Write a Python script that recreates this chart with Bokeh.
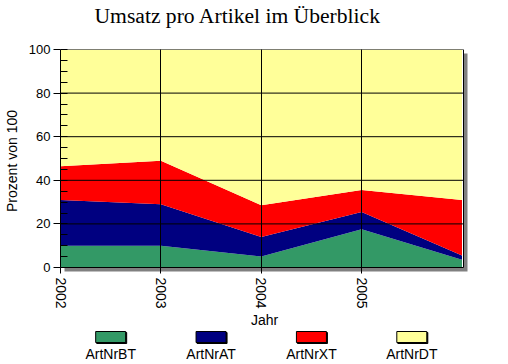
import math
from bokeh.plotting import figure
from bokeh.models import (ColumnDataSource, FixedTicker, SingleIntervalTicker, Range1d)
from bokeh.layouts import column
from bokeh.embed import file_html
from bokeh.resources import INLINE
from bokeh.core.properties import value

# ---- data ----
years = [2002, 2003, 2004, 2005, 2006]
tick_years = [2002, 2003, 2004, 2005]
series = ["ArtNrBT", "ArtNrAT", "ArtNrXT", "ArtNrDT"]
art_bt = [10, 10, 5, 17.5, 3.5]
art_at = [21, 19, 9, 8, 2]
art_xt = [15.5, 20, 14.5, 10, 25.5]
art_dt = [53.5, 51, 71.5, 64.5, 69]
colors = ["#339966", "#000080", "#FF0000", "#FFFF99"]
y_grid_values = [20, 40, 60, 80]
title_text = "Umsatz pro Artikel im Überblick"

SANS = "Liberation Sans"
SERIF = "Liberation Serif"

# chart area (without shadow) and shadow size, in pixels
X0, X1 = 2002, 2006.015
Y0, Y1 = 0, 100
AREA_W, AREA_H = 403, 218
SH = 5                       # extra room for the drop shadow
ppx = AREA_W / (X1 - X0)
ppy = AREA_H / (Y1 - Y0)
X1E = X1 + SH / ppx          # frame extends to the right for the shadow
Y0E = Y0 - SH / ppy          # and below

LEFT, RIGHT = 60, 36

source = ColumnDataSource(dict(year=years, ArtNrBT=art_bt, ArtNrAT=art_at,
                               ArtNrXT=art_xt, ArtNrDT=art_dt))

# ---------------- title strip ----------------
TITLE_H = 40
tfig = figure(frame_width=AREA_W + SH, frame_height=TITLE_H, title=None,
              x_range=Range1d(X0, X1E), y_range=Range1d(TITLE_H, 0),
              output_backend="svg", toolbar_location=None,
              min_border_left=LEFT, min_border_right=RIGHT, min_border_top=0, min_border_bottom=0,
              background_fill_color=None, border_fill_color="white")
tfig.axis.visible = False
tfig.grid.visible = False
tfig.outline_line_color = None
tfig.text(x=[X0 + 34 / ppx], y=[15], text=[title_text], text_align="left",
          text_baseline="alphabetic", text_font=value(SERIF), text_font_size="21.6px",
          text_color="black")

# ---------------- main chart ----------------
p = figure(frame_width=AREA_W + SH, frame_height=AREA_H + SH, title=None,
           x_range=Range1d(X0, X1E), y_range=Range1d(Y0E, Y1),
           output_backend="svg", toolbar_location=None,
           min_border_left=LEFT, min_border_right=RIGHT, min_border_top=9, min_border_bottom=40,
           background_fill_color="white", border_fill_color="white")
p.outline_line_color = None

# drop shadow, then white chart area, then the stacked areas
p.quad(left=[X0 + 4 / ppx], right=[X1 + 4 / ppx], bottom=[Y0 - 4 / ppy], top=[Y1 - 4 / ppy],
       fill_color="#808080", line_color=None)
p.quad(left=[X0], right=[X1], bottom=[Y0], top=[Y1], fill_color="white", line_color=None)
p.varea_stack(stackers=series, x="year", color=colors, source=source)

# horizontal grid lines and chart border (limited to the chart area)
p.segment(x0=X0, x1=X1, y0=y_grid_values, y1=y_grid_values, line_color="black", line_width=1)
p.segment(x0=[X0, X0, X1], x1=[X1, X1, X1], y0=[Y0, Y1, Y0], y1=[Y0, Y1, Y1],
          line_color="black", line_width=1)

# vertical grid lines
p.ygrid.visible = False
p.xgrid.ticker = FixedTicker(ticks=tick_years[1:])
p.xgrid.grid_line_color = "black"
p.xgrid.grid_line_width = 1
p.xgrid.level = "overlay"

xa = p.xaxis[0]
xa.ticker = FixedTicker(ticks=tick_years)
xa.axis_line_color = None
xa.major_label_orientation = -math.pi / 2
xa.major_tick_in = SH
xa.major_tick_out = 1
xa.minor_tick_in = 0
xa.minor_tick_out = 0
xa.major_label_standoff = 4
xa.axis_label = "Jahr"
xa.axis_label_standoff = 0
xa.major_label_text_font = SANS
xa.major_label_text_font_size = "14px"
xa.axis_label_text_font = SANS
xa.axis_label_text_font_size = "14px"
xa.axis_label_text_font_style = "normal"

ya = p.yaxis[0]
ya.ticker = SingleIntervalTicker(interval=20, num_minor_ticks=4)
ya.bounds = (Y0, Y1)
ya.axis_line_color = "black"
ya.major_tick_in = 0
ya.major_tick_out = 7
ya.minor_tick_in = 7
ya.minor_tick_out = 0
ya.major_label_standoff = 3
ya.axis_label = "Prozent von 100"
ya.axis_label_standoff = 6
ya.major_label_text_font = SANS
ya.major_label_text_font_size = "13px"
ya.axis_label_text_font = SANS
ya.axis_label_text_font_size = "14px"
ya.axis_label_text_font_style = "normal"

for ax in (xa, ya):
    ax.major_tick_line_color = "black"
    ax.minor_tick_line_color = "black"
    ax.major_label_text_color = "black"
    ax.axis_label_text_color = "black"

# ---------------- legend (box above label) ----------------
LEG_H = 33
leg = figure(frame_width=AREA_W + SH, frame_height=LEG_H, title=None,
             x_range=Range1d(X0, X1E), y_range=Range1d(LEG_H, 0),
             output_backend="svg", toolbar_location=None,
             min_border_left=LEFT, min_border_right=RIGHT, min_border_top=0, min_border_bottom=0,
             background_fill_color=None, border_fill_color="white")
leg.axis.visible = False
leg.grid.visible = False
leg.outline_line_color = None

lx = [y + 0.5 for y in tick_years]
leg_src = ColumnDataSource(dict(x=lx, xs=[v + 1 / ppx for v in lx], name=series, color=colors))
leg.rect(x="xs", y=7.5, width=30, height=11, width_units="screen", height_units="screen",
         source=leg_src, fill_color="black", line_color="black", line_width=1)
leg.rect(x="x", y=6.5, width=30, height=11, width_units="screen", height_units="screen",
         source=leg_src, fill_color="color", line_color="black", line_width=1)
leg.text(x="x", y=23, text="name", source=leg_src, text_align="center",
         text_baseline="alphabetic", text_font=value(SANS), text_font_size="14px",
         text_color="black")

layout = column(tfig, p, leg, spacing=0)
open("out.html", "w").write(file_html(layout, INLINE))
